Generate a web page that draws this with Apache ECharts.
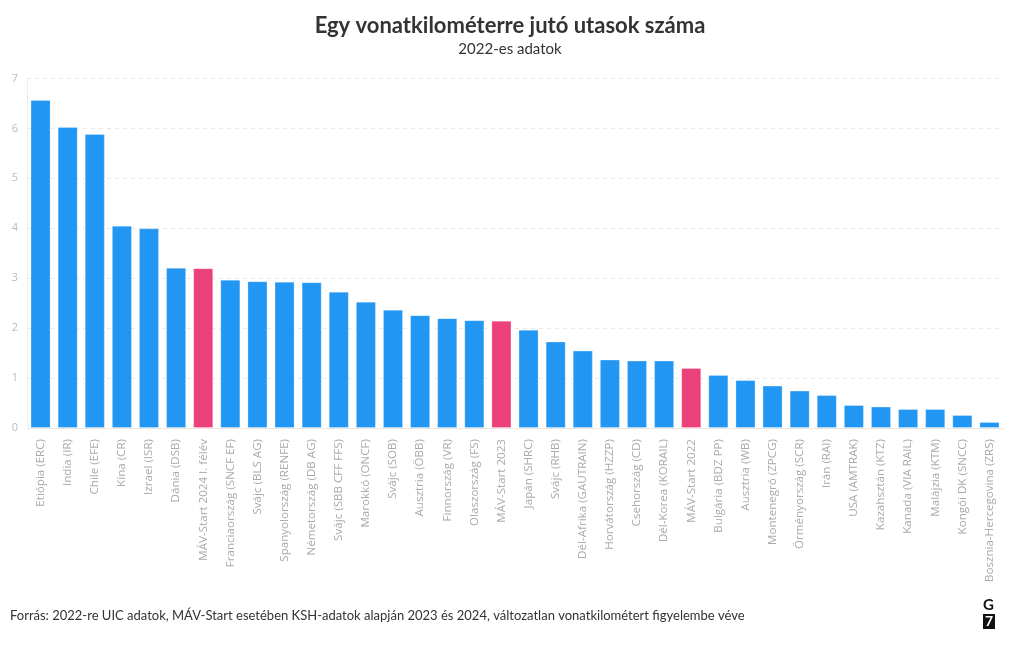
<!DOCTYPE html>
<html><head><meta charset="utf-8">
<script src="https://cdn.jsdelivr.net/npm/echarts@6/dist/echarts.min.js"></script>
<style>html,body{margin:0;padding:0;background:#fff}#c{width:1020px;height:650px}</style>
</head><body><div id="c"></div>
<script>
const categories = ["Etiópia (ERC)","India (IR)","Chile (EFE)","Kína (CR)","Izrael (ISR)","Dánia (DSB)","MÁV-Start 2024 I. félév","Franciaország (SNCF EF)","Svájc (BLS AG)","Spanyolország (RENFE)","Németország (DB AG)","Svájc (SBB CFF FFS)","Marokkó (ONCF)","Svájc (SOB)","Ausztria (ÖBB)","Finnország (VR)","Olaszország (FS)","MÁV-Start 2023","Japán (SHRC)","Svájc (RHB)","Dél-Afrika (GAUTRAIN)","Horvátország (HZZP)","Csehország (CD)","Dél-Korea (KORAIL)","MÁV-Start 2022","Bulgária (BDZ PP)","Ausztria (WB)","Montenegró (ZPCG)","Örményország (SCR)","Irán (RAI)","USA (AMTRAK)","Kazahsztán (KTZ)","Kanada (VIA RAIL)","Malájzia (KTM)","Kongói DK (SNCC)","Bosznia-Hercegovina (ZRS)"];
const values = [6.57,6.03,5.89,4.05,4.00,3.21,3.20,2.97,2.94,2.93,2.92,2.73,2.53,2.37,2.26,2.20,2.16,2.15,1.97,1.73,1.55,1.37,1.35,1.35,1.20,1.06,0.96,0.85,0.75,0.66,0.46,0.43,0.38,0.38,0.26,0.12];
const highlighted = ["MÁV-Start 2024 I. félév","MÁV-Start 2023","MÁV-Start 2022"];
const yTicks = [0,1,2,3,4,5,6,7];
const titleText = "Egy vonatkilométerre jutó utasok száma";
const subtitleText = "2022-es adatok";
const sourceText = "Forrás: 2022-re UIC adatok, MÁV-Start esetében KSH-adatok alapján 2023 és 2024, változatlan vonatkilométert figyelembe véve";

const BLUE = "#2196F3", PINK = "#EC407A";
const chart = echarts.init(document.getElementById('c'), null, {renderer:'canvas'});
chart.setOption({
  backgroundColor:'#fff',
  animation:false,
  title:[
    {text:titleText, left:'center', top:10, textStyle:{fontFamily:'Lato', fontWeight:'bold', fontSize:22, color:'#333'}},
    {text:subtitleText, left:'center', top:37, textStyle:{fontFamily:'Lato', fontWeight:'normal', fontSize:15, color:'#333'}}
  ],
  grid:{left:27, right:17, top:78.5, bottom:222, containLabel:false},
  xAxis:{
    type:'category', data:categories,
    axisLine:{lineStyle:{color:'#f0e8e0'}},
    axisTick:{alignWithLabel:true, length:5, lineStyle:{color:'#e6e6e6'}},
    axisLabel:{rotate:90, interval:0, color:'#aaa', fontFamily:'Open Sans', fontSize:11.6, margin:11}
  },
  yAxis:{
    type:'value', min:yTicks[0], max:yTicks[yTicks.length-1], interval:1,
    axisLine:{show:true, lineStyle:{color:'#eee'}},
    axisTick:{show:false},
    axisLabel:{color:'#bbb', fontFamily:'Open Sans', fontSize:11, margin:9},
    splitLine:{lineStyle:{type:[4,4], color:'#e8e8e8'}}
  },
  series:[{
    type:'bar', barCategoryGap:'26%',
    data: values.map((v,i)=>({value:v, itemStyle:{color: highlighted.includes(categories[i]) ? PINK : BLUE}})),
    itemStyle:{borderColor:'rgba(255,255,255,0.25)', borderWidth:1}
  }],
  graphic:[
    {type:'text', left:10, top:609, style:{text:sourceText, fontFamily:'Lato', fontSize:13, fill:'#333'}},
    {type:'text', left:983, top:598, style:{text:'G', fontFamily:'Lato', fontWeight:'bold', fontSize:15, fill:'#111'}},
    {type:'rect', left:983, top:614, shape:{width:12, height:15}, style:{fill:'#111'}},
    {type:'text', left:985, top:614, style:{text:'7', fontFamily:'Lato', fontWeight:'bold', fontSize:14, fill:'#fff'}}
  ]
});
</script></body></html>
